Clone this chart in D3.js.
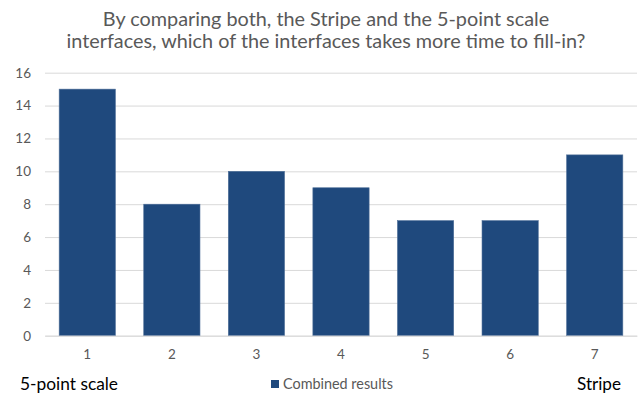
<!DOCTYPE html>
<html><head><meta charset="utf-8">
<script src="https://cdn.jsdelivr.net/npm/d3@7"></script>
<style>html,body{margin:0;padding:0;background:#fff;}svg{display:block;}</style>
</head><body>
<svg id="chart" width="638" height="394"></svg>
<script>
const categories = ["1","2","3","4","5","6","7"];
const values = [15, 8, 10, 9, 7, 7, 11];
const yTicks = [0, 2, 4, 6, 8, 10, 12, 14, 16];
const titleLines = ["By comparing both, the Stripe and the 5-point scale", "interfaces, which of the interfaces takes more time to fill-in?"];
const seriesName = "Combined results";
const leftLabel = "5-point scale";
const rightLabel = "Stripe";

const FONT = "Lato, 'Open Sans', sans-serif";
const svg = d3.select("#chart");
const W = 638, H = 394;
const margin = {left: 45, right: 1, top: 72.7, bottom: 58.3};

const x = d3.scaleBand().domain(categories).range([margin.left, W - margin.right]).paddingInner(0.335).paddingOuter(0.1675);
const y = d3.scaleLinear().domain([0, 16]).range([H - margin.bottom, margin.top]);

function fitText(sel, target) {
  sel.each(function(){
    const node = this;
    let fs = parseFloat(node.getAttribute("font-size"));
    const w = node.getComputedTextLength();
    if (w > 0) node.setAttribute("font-size", (fs * target / w).toFixed(2));
  });
}

// gridlines
const yAxis = d3.axisLeft(y).tickValues(yTicks).tickSize(-(W - margin.right - margin.left)).tickPadding(14);
const gy = svg.append("g").attr("transform", `translate(${margin.left},0)`).call(yAxis);
gy.select(".domain").remove();
gy.selectAll(".tick line").attr("stroke", "#d9d9d9").attr("stroke-width", 1);
gy.selectAll(".tick text").attr("fill", "#595959").attr("font-size", 13.5).attr("font-family", FONT);

// bars
svg.append("g").selectAll("rect").data(values).join("rect")
  .attr("x", (d, i) => x(categories[i]))
  .attr("width", x.bandwidth())
  .attr("y", d => y(d))
  .attr("height", d => y(0) - y(d))
  .attr("fill", "#1f497d")
  .attr("stroke", "#4f6f98").attr("stroke-width", 0.6);

// x axis
const xAxis = d3.axisBottom(x).tickSize(0).tickPadding(14);
const gx = svg.append("g").attr("transform", `translate(0,${y(0)})`).call(xAxis);
gx.select(".domain").attr("stroke", "#d9d9d9");
gx.selectAll(".tick text").attr("fill", "#595959").attr("font-size", 13.5).attr("font-family", FONT);

// title
const title = svg.append("g");
title.selectAll("text").data(titleLines).join("text")
  .attr("x", 326).attr("y", (d, i) => 26 + i * 22)
  .attr("text-anchor", "middle").attr("fill", "#595959")
  .attr("font-family", FONT).attr("font-size", 18.5)
  .text(d => d);
fitText(title.select("text:nth-child(2)"), 519);
const fs2 = title.select("text:nth-child(2)").attr("font-size");
title.select("text:nth-child(1)").attr("font-size", fs2);

// legend
const lg = svg.append("g");
lg.append("rect").attr("x", 271).attr("y", 380).attr("width", 8).attr("height", 8).attr("fill", "#1f497d");
const lt = lg.append("text").attr("x", 283).attr("y", 388.5).attr("fill", "#595959")
  .attr("font-family", FONT).attr("font-size", 12.5).text(seriesName);
fitText(lt, 110);

// side labels
const ll = svg.append("text").attr("x", 20).attr("y", 390).attr("fill", "#000")
  .attr("font-family", FONT).attr("font-size", 16).text(leftLabel);
fitText(ll, 98);
const rl = svg.append("text").attr("x", 621).attr("y", 390).attr("text-anchor", "end").attr("fill", "#000")
  .attr("font-family", FONT).attr("font-size", 16).text(rightLabel);
fitText(rl, 44);
</script>
</body></html>
